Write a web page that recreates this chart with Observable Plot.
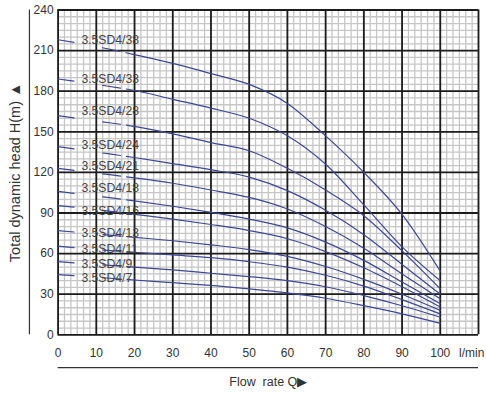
<!DOCTYPE html>
<html>
<head>
<meta charset="utf-8">
<script src="https://cdn.jsdelivr.net/npm/d3@7"></script>
<script src="https://cdn.jsdelivr.net/npm/@observablehq/plot@0.6"></script>
<style>
  html, body { margin: 0; padding: 0; background: #fff; }
  #chart svg { display: block; }
</style>
</head>
<body>
<div id="chart"></div>
<script>
// Flow rate Q (l/min)
const flow = [0, 10, 20, 30, 40, 50, 60, 70, 80, 90, 100];

// Pump models
const models = ["3.5SD4/38", "3.5SD4/33", "3.5SD4/28", "3.5SD4/24", "3.5SD4/21",
  "3.5SD4/18", "3.5SD4/16", "3.5SD4/13", "3.5SD4/11", "3.5SD4/9", "3.5SD4/7"];

// Total dynamic head H (m) for each model at the flow values above
const head38 = [218, 213, 207, 200.5, 193, 185, 171, 147, 120, 89, 47];
const head33 = [189, 185, 180.5, 174, 167.5, 160, 147, 126, 96, 65, 40];
const head28 = [162, 158, 154, 148.5, 142, 136, 123, 107, 88, 62, 34];
const head24 = [139, 135, 131, 126.5, 122, 116.5, 106.5, 92, 74, 52, 30];
const head21 = [123, 119.5, 116, 112, 107, 101.5, 93, 80, 64, 45, 26.5];
const head18 = [106, 102.5, 99, 95, 90.5, 85.5, 79, 68.5, 55, 39, 23];
const head16 = [95.5, 92.5, 89, 85.5, 81.5, 77, 71, 61.5, 49.5, 35.5, 20.5];
const head13 = [77, 74.5, 72, 69.5, 66.5, 63, 58, 50.5, 41, 30, 18];
const head11 = [65.5, 63, 61, 59, 57, 54, 50, 44, 36, 26, 15.5];
const head9  = [54, 52, 50, 48, 45.5, 43, 40, 35.5, 29, 21.5, 13];
const head7  = [44.5, 42.5, 40.5, 38.5, 36.5, 34, 31, 27, 21.5, 15.5, 8.5];

// Head at which each model's label sits
const labelHead = [218, 189, 165, 140.5, 125, 108.5, 91.5, 75, 63.5, 52.5, 41.6];

// Tick labels
const xTicks = [0, 10, 20, 30, 40, 50, 60, 70, 80, 90, 100];
const yTicks = [0, 30, 60, 90, 120, 150, 180, 210, 240];

const heads = [head38, head33, head28, head24, head21, head18, head16, head13, head11, head9, head7];
const rows = [];
models.forEach((m, i) => flow.forEach((q, j) => rows.push({model: m, q, h: heads[i][j]})));
const labels = models.map((m, i) => ({model: m, h: labelHead[i]}));

const majorX = d3.range(0, 110.001, 10);
const minorX = d3.range(0, 110.001, 10 / 6);
const majorY = d3.range(0, 240.001, 30);
const minorY = d3.range(0, 240.001, 5);

const font = "'Liberation Sans', Arial, Helvetica, sans-serif";
const blue = "#3c4796";

const chart = Plot.plot({
  width: 486,
  height: 393,
  marginLeft: 57.6,
  marginRight: 8,
  marginTop: 9.5,
  marginBottom: 58.7,
  style: {fontFamily: font, fontSize: "12px", color: "#333", background: "#fff", overflow: "visible"},
  x: {domain: [0, 110]},
  y: {domain: [0, 240]},
  marks: [
    Plot.ruleX(minorX, {stroke: "#c6c6c6", strokeWidth: 1.3}),
    Plot.ruleY(minorY, {stroke: "#c6c6c6", strokeWidth: 1.3}),
    Plot.ruleX(majorX, {stroke: "#1c1c1c", strokeWidth: 1.8}),
    Plot.ruleY(majorY, {stroke: "#1c1c1c", strokeWidth: 1.8}),
    Plot.line(rows, {x: "q", y: "h", z: "model", stroke: blue, strokeWidth: 1.2,
      curve: "monotone-x", strokeDasharray: "16,29,18,6,3000"}),
    Plot.text(labels, {x: () => 6.1, y: "h", text: "model", textAnchor: "start",
      lineAnchor: "middle", fontSize: 12.2, fill: "#444"}),
    Plot.axisX({ticks: xTicks, tickSize: 0, tickPadding: 14, fontSize: 12, label: null}),
    Plot.axisY({ticks: yTicks, tickSize: 0, tickPadding: 4.5, fontSize: 12, label: null}),
    Plot.text(["l/min"], {x: () => 104.9, frameAnchor: "bottom", dy: 18.4, textAnchor: "start",
      lineAnchor: "middle", text: d => d, fontSize: 12, fill: "#333"}),
    Plot.ruleX([0], {x: () => -7.5, y1: 0, y2: 240, stroke: "#333", strokeWidth: 1.2, clip: false}),
    Plot.ruleY([0], {y: () => -24.2, x1: 0, x2: 110, stroke: "#333", strokeWidth: 1.2, clip: false}),
    Plot.text(["Flow  rate Q\u25B6"], {frameAnchor: "bottom", dy: 46.7, text: d => d,
      textAnchor: "middle", lineAnchor: "middle", fontSize: 12.5, fill: "#333"}),
    Plot.text(["Total dynamic head H(m) \u25B2"], {frameAnchor: "left", dx: -42.6, rotate: -90,
      textAnchor: "middle", lineAnchor: "middle", text: d => d, fontSize: 14.5, fill: "#333"})
  ]
});
document.getElementById("chart").appendChild(chart);
</script>
</body>
</html>
